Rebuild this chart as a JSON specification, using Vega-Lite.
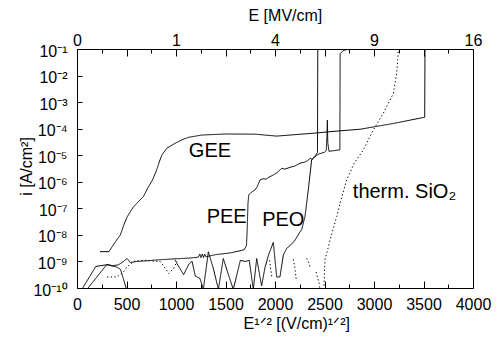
{
  "$schema": "https://vega.github.io/schema/vega-lite/v6.json",
  "width": 396,
  "height": 239,
  "autosize": "none",
  "padding": {"left": 77, "top": 49, "right": 27, "bottom": 51},
  "background": "white",
  "config": {
    "view": {"stroke": "black", "strokeWidth": 1},
    "font": "Liberation Sans",
    "axis": {
      "domain": false,
      "grid": false,
      "ticks": true,
      "labelFont": "Liberation Sans",
      "labelFontSize": 16,
      "labelColor": "black",
      "tickColor": "black",
      "tickWidth": 1,
      "titleFont": "Liberation Sans",
      "titleFontSize": 16,
      "titleFontWeight": "normal",
      "titleColor": "black",
      "labelOverlap": false,
      "labelFlush": false
    }
  },
  "resolve": {"axis": {"x": "independent", "y": "independent"}},
  "layer": [
    {
      "data": {
        "values": [
          {"s": "GEE", "t": "solid", "x": 232, "y": 2.34e-9},
          {"s": "GEE", "t": "solid", "x": 323, "y": 2.34e-9},
          {"s": "GEE", "t": "solid", "x": 380, "y": 5.0e-9},
          {"s": "GEE", "t": "solid", "x": 438, "y": 1.0e-8},
          {"s": "GEE", "t": "solid", "x": 480, "y": 2.8e-8},
          {"s": "GEE", "t": "solid", "x": 510, "y": 5.0e-8},
          {"s": "GEE", "t": "solid", "x": 569, "y": 1.12e-7},
          {"s": "GEE", "t": "solid", "x": 620, "y": 1.78e-7},
          {"s": "GEE", "t": "solid", "x": 670, "y": 2.75e-7},
          {"s": "GEE", "t": "solid", "x": 720, "y": 6.3e-7},
          {"s": "GEE", "t": "solid", "x": 760, "y": 1.12e-6},
          {"s": "GEE", "t": "solid", "x": 800, "y": 2.5e-6},
          {"s": "GEE", "t": "solid", "x": 838, "y": 6.6e-6},
          {"s": "GEE", "t": "solid", "x": 860, "y": 1.05e-5},
          {"s": "GEE", "t": "solid", "x": 906, "y": 1.82e-5},
          {"s": "GEE", "t": "solid", "x": 990, "y": 2.8e-5},
          {"s": "GEE", "t": "solid", "x": 1060, "y": 3.8e-5},
          {"s": "GEE", "t": "solid", "x": 1125, "y": 4.7e-5},
          {"s": "GEE", "t": "solid", "x": 1259, "y": 5.75e-5},
          {"s": "GEE", "t": "solid", "x": 1500, "y": 6.3e-5},
          {"s": "GEE", "t": "solid", "x": 1800, "y": 6.2e-5},
          {"s": "GEE", "t": "solid", "x": 2017, "y": 5.25e-5},
          {"s": "GEE", "t": "solid", "x": 2400, "y": 6.8e-5},
          {"s": "GEE", "t": "solid", "x": 2657, "y": 8.3e-5},
          {"s": "GEE", "t": "solid", "x": 2859, "y": 9.5e-5},
          {"s": "GEE", "t": "solid", "x": 3200, "y": 1.58e-4},
          {"s": "GEE", "t": "solid", "x": 3512, "y": 2.7e-4},
          {"s": "GEE", "t": "solid", "x": 3515, "y": 0.1},

          {"s": "PEE", "t": "solid", "x": 101, "y": 8.9e-11},
          {"s": "PEE", "t": "solid", "x": 303, "y": 7.8e-10},
          {"s": "PEE", "t": "solid", "x": 360, "y": 6.9e-10},
          {"s": "PEE", "t": "solid", "x": 420, "y": 7.5e-10},
          {"s": "PEE", "t": "solid", "x": 470, "y": 1.0e-9},
          {"s": "PEE", "t": "solid", "x": 505, "y": 1.3e-9},
          {"s": "PEE", "t": "solid", "x": 539, "y": 9.1e-10},
          {"s": "PEE", "t": "solid", "x": 600, "y": 1.0e-9},
          {"s": "PEE", "t": "solid", "x": 700, "y": 1.05e-9},
          {"s": "PEE", "t": "solid", "x": 822, "y": 1.15e-9},
          {"s": "PEE", "t": "solid", "x": 1000, "y": 1.26e-9},
          {"s": "PEE", "t": "solid", "x": 1150, "y": 1.35e-9},
          {"s": "PEE", "t": "solid", "x": 1225, "y": 1.45e-9},
          {"s": "PEE", "t": "solid", "x": 1240, "y": 1.9e-9},
          {"s": "PEE", "t": "solid", "x": 1252, "y": 1.4e-9},
          {"s": "PEE", "t": "solid", "x": 1265, "y": 1.9e-9},
          {"s": "PEE", "t": "solid", "x": 1278, "y": 1.4e-9},
          {"s": "PEE", "t": "solid", "x": 1290, "y": 1.9e-9},
          {"s": "PEE", "t": "solid", "x": 1302, "y": 1.5e-9},
          {"s": "PEE", "t": "solid", "x": 1400, "y": 1.8e-9},
          {"s": "PEE", "t": "solid", "x": 1550, "y": 2.1e-9},
          {"s": "PEE", "t": "solid", "x": 1663, "y": 2.6e-9},
          {"s": "PEE", "t": "solid", "x": 1690, "y": 2.8e-9},
          {"s": "PEE", "t": "solid", "x": 1712, "y": 4.0e-9},
          {"s": "PEE", "t": "solid", "x": 1720, "y": 2.0e-8},
          {"s": "PEE", "t": "solid", "x": 1727, "y": 1.5e-7},
          {"s": "PEE", "t": "solid", "x": 1735, "y": 3.2e-7},
          {"s": "PEE", "t": "solid", "x": 1760, "y": 4.0e-7},
          {"s": "PEE", "t": "solid", "x": 1798, "y": 4.9e-7},
          {"s": "PEE", "t": "solid", "x": 1820, "y": 6.5e-7},
          {"s": "PEE", "t": "solid", "x": 1848, "y": 1.17e-6},
          {"s": "PEE", "t": "solid", "x": 1880, "y": 1.3e-6},
          {"s": "PEE", "t": "solid", "x": 1910, "y": 1.25e-6},
          {"s": "PEE", "t": "solid", "x": 1940, "y": 1.5e-6},
          {"s": "PEE", "t": "solid", "x": 1983, "y": 1.8e-6},
          {"s": "PEE", "t": "solid", "x": 2020, "y": 2.2e-6},
          {"s": "PEE", "t": "solid", "x": 2067, "y": 3.2e-6},
          {"s": "PEE", "t": "solid", "x": 2100, "y": 3.0e-6},
          {"s": "PEE", "t": "solid", "x": 2152, "y": 3.5e-6},
          {"s": "PEE", "t": "solid", "x": 2200, "y": 3.9e-6},
          {"s": "PEE", "t": "solid", "x": 2253, "y": 5.0e-6},
          {"s": "PEE", "t": "solid", "x": 2300, "y": 5.5e-6},
          {"s": "PEE", "t": "solid", "x": 2330, "y": 6.3e-6},
          {"s": "PEE", "t": "solid", "x": 2354, "y": 7.6e-6},
          {"s": "PEE", "t": "solid", "x": 2380, "y": 7.0e-6},
          {"s": "PEE", "t": "solid", "x": 2404, "y": 8.9e-6},
          {"s": "PEE", "t": "solid", "x": 2440, "y": 1.1e-5},
          {"s": "PEE", "t": "solid", "x": 2500, "y": 1.3e-5},
          {"s": "PEE", "t": "solid", "x": 2518, "y": 1.5e-5},
          {"s": "PEE", "t": "solid", "x": 2524, "y": 5.0e-5},
          {"s": "PEE", "t": "solid", "x": 2529, "y": 2.1e-4},
          {"s": "PEE", "t": "solid", "x": 2533, "y": 3.0e-5},
          {"s": "PEE", "t": "solid", "x": 2545, "y": 1.4e-5},
          {"s": "PEE", "t": "solid", "x": 2655, "y": 1.6e-5},
          {"s": "PEE", "t": "solid", "x": 2658, "y": 6.6e-2},
          {"s": "PEE", "t": "solid", "x": 2690, "y": 8.9e-2},
          {"s": "PEE", "t": "solid", "x": 2760, "y": 0.1},

          {"s": "PEO1", "t": "solid", "x": 50, "y": 8.9e-11},
          {"s": "PEO1", "t": "solid", "x": 190, "y": 6.5e-10},
          {"s": "PEO1", "t": "solid", "x": 300, "y": 7.5e-10},
          {"s": "PEO1", "t": "solid", "x": 400, "y": 6.2e-10},
          {"s": "PEO1", "t": "solid", "x": 440, "y": 5.0e-10},
          {"s": "PEO1", "t": "solid", "x": 500, "y": 8.9e-11},

          {"s": "PEO2", "t": "solid", "x": 990, "y": 1.17e-9},
          {"s": "PEO2", "t": "solid", "x": 1010, "y": 8.3e-10},
          {"s": "PEO2", "t": "solid", "x": 1077, "y": 3.2e-10},
          {"s": "PEO2", "t": "solid", "x": 1130, "y": 7.9e-10},
          {"s": "PEO2", "t": "solid", "x": 1162, "y": 1.02e-9},
          {"s": "PEO2", "t": "solid", "x": 1195, "y": 2.8e-10},
          {"s": "PEO2", "t": "solid", "x": 1242, "y": 2.3e-10},
          {"s": "PEO2", "t": "solid", "x": 1276, "y": 8.9e-11},
          {"s": "PEO2", "t": "solid", "x": 1327, "y": 2.3e-9},
          {"s": "PEO2", "t": "solid", "x": 1377, "y": 5.5e-10},
          {"s": "PEO2", "t": "solid", "x": 1428, "y": 8.9e-11},
          {"s": "PEO2", "t": "solid", "x": 1478, "y": 1.29e-9},
          {"s": "PEO2", "t": "solid", "x": 1529, "y": 3.2e-10},
          {"s": "PEO2", "t": "solid", "x": 1579, "y": 8.9e-11},
          {"s": "PEO2", "t": "solid", "x": 1650, "y": 1.1e-9},
          {"s": "PEO2", "t": "solid", "x": 1700, "y": 1.0e-9},
          {"s": "PEO2", "t": "solid", "x": 1740, "y": 1.1e-9},
          {"s": "PEO2", "t": "solid", "x": 1781, "y": 8.9e-11},
          {"s": "PEO2", "t": "solid", "x": 1815, "y": 1.29e-9},
          {"s": "PEO2", "t": "solid", "x": 1865, "y": 1.2e-10},
          {"s": "PEO2", "t": "solid", "x": 1899, "y": 6.0e-10},
          {"s": "PEO2", "t": "solid", "x": 1940, "y": 2.0e-9},
          {"s": "PEO2", "t": "solid", "x": 1983, "y": 5.2e-9},
          {"s": "PEO2", "t": "solid", "x": 2017, "y": 2.6e-10},
          {"s": "PEO2", "t": "solid", "x": 2050, "y": 2.6e-10},
          {"s": "PEO2", "t": "solid", "x": 2084, "y": 1.74e-9},
          {"s": "PEO2", "t": "solid", "x": 2118, "y": 3.1e-9},
          {"s": "PEO2", "t": "solid", "x": 2168, "y": 4.5e-9},
          {"s": "PEO2", "t": "solid", "x": 2202, "y": 6.3e-9},
          {"s": "PEO2", "t": "solid", "x": 2250, "y": 1.26e-8},
          {"s": "PEO2", "t": "solid", "x": 2269, "y": 1.55e-8},
          {"s": "PEO2", "t": "solid", "x": 2303, "y": 4.9e-8},
          {"s": "PEO2", "t": "solid", "x": 2336, "y": 4.9e-7},
          {"s": "PEO2", "t": "solid", "x": 2370, "y": 6.6e-6},
          {"s": "PEO2", "t": "solid", "x": 2400, "y": 8.9e-6},
          {"s": "PEO2", "t": "solid", "x": 2429, "y": 1.26e-5},
          {"s": "PEO2", "t": "solid", "x": 2432, "y": 0.1},

          {"s": "TH1", "t": "dot", "x": 303, "y": 2.6e-10},
          {"s": "TH1", "t": "dot", "x": 404, "y": 2.6e-10},
          {"s": "TH1", "t": "dot", "x": 471, "y": 4.1e-10},
          {"s": "TH1", "t": "dot", "x": 505, "y": 6.3e-10},
          {"s": "TH1", "t": "dot", "x": 572, "y": 1.0e-9},
          {"s": "TH1", "t": "dot", "x": 673, "y": 1.12e-9},
          {"s": "TH1", "t": "dot", "x": 842, "y": 9.8e-10},
          {"s": "TH1", "t": "dot", "x": 892, "y": 5.5e-10},
          {"s": "TH1", "t": "dot", "x": 926, "y": 3.5e-10},
          {"s": "TH1", "t": "dot", "x": 976, "y": 5.5e-10},
          {"s": "TH1", "t": "dot", "x": 1010, "y": 1.0e-9},
          {"s": "TH2", "t": "dot", "x": 1945, "y": 1.1e-9},
          {"s": "TH2", "t": "dot", "x": 1955, "y": 6.0e-10},
          {"s": "TH2", "t": "dot", "x": 1968, "y": 2.5e-10},
          {"s": "TH3", "t": "dot", "x": 2185, "y": 1.2e-9},
          {"s": "TH3", "t": "dot", "x": 2200, "y": 6.0e-10},
          {"s": "TH3", "t": "dot", "x": 2215, "y": 2.0e-10},
          {"s": "TH4", "t": "dot", "x": 2320, "y": 1.3e-9},
          {"s": "TH4", "t": "dot", "x": 2337, "y": 1.0e-9},
          {"s": "TH4", "t": "dot", "x": 2354, "y": 6.3e-10},
          {"s": "TH5", "t": "dot", "x": 2415, "y": 4.0e-10},
          {"s": "TH5", "t": "dot", "x": 2430, "y": 2.5e-10},
          {"s": "TH5", "t": "dot", "x": 2445, "y": 1.5e-10},
          {"s": "TH5", "t": "dot", "x": 2455, "y": 8.9e-11},
          {"s": "TH6", "t": "dot", "x": 2490, "y": 8.9e-11},
          {"s": "TH6", "t": "dot", "x": 2495, "y": 1.1e-10},
          {"s": "TH6", "t": "dot", "x": 2500, "y": 4.0e-10},
          {"s": "TH6", "t": "dot", "x": 2505, "y": 1.15e-9},
          {"s": "TH6", "t": "dot", "x": 2522, "y": 2.0e-9},
          {"s": "TH6", "t": "dot", "x": 2570, "y": 1.0e-8},
          {"s": "TH6", "t": "dot", "x": 2623, "y": 4.9e-8},
          {"s": "TH6", "t": "dot", "x": 2657, "y": 1.55e-7},
          {"s": "TH6", "t": "dot", "x": 2724, "y": 1.17e-6},
          {"s": "TH6", "t": "dot", "x": 2800, "y": 5.0e-6},
          {"s": "TH6", "t": "dot", "x": 2892, "y": 1.58e-5},
          {"s": "TH6", "t": "dot", "x": 2993, "y": 8.9e-5},
          {"s": "TH6", "t": "dot", "x": 3094, "y": 3.8e-4},
          {"s": "TH6", "t": "dot", "x": 3195, "y": 2.1e-3},
          {"s": "TH6", "t": "dot", "x": 3229, "y": 1.2e-2},
          {"s": "TH6", "t": "dot", "x": 3240, "y": 4.0e-2},
          {"s": "TH6", "t": "dot", "x": 3246, "y": 0.1}
        ]
      },
      "mark": {"type": "line", "clip": true, "strokeWidth": 1, "color": "black"},
      "encoding": {
        "x": {
          "field": "x", "type": "quantitative",
          "scale": {"domain": [0, 4000], "nice": false, "zero": false},
          "axis": {
            "orient": "bottom",
            "values": [0, 500, 1000, 1500, 2000, 2500, 3000, 3500, 4000],
            "format": "d",
            "offset": -7,
            "tickSize": 7,
            "labelPadding": 8,
            "labelBaseline": "top",
            "title": "E¹ᐟ² [(V/cm)¹ᐟ²]",
            "titleX": 166,
            "titleY": 42,
            "titleAlign": "left",
            "titleBaseline": "middle"
          }
        },
        "y": {
          "field": "y", "type": "quantitative",
          "scale": {"type": "log", "domain": [1e-10, 0.1], "nice": false},
          "axis": {
            "orient": "left",
            "values": [1e-10, 1e-9, 1e-8, 1e-7, 1e-6, 1e-5, 1e-4, 1e-3, 1e-2, 1e-1],
            "labelExpr": "'10⁻' + (round(-log(datum.value)/LN10) == 10 ? '¹⁰' : ['','¹','²','³','⁴','⁵','⁶','⁷','⁸','⁹'][round(-log(datum.value)/LN10)])",
            "offset": -5,
            "tickSize": 5,
            "labelPadding": 10,
            "labelOffset": 2,
            "title": "i [A/cm²]",
            "titleX": -56,
            "titleY": 117,
            "titleAngle": -90,
            "titleAlign": "center",
            "titleBaseline": "middle"
          }
        },
        "detail": {"field": "s", "type": "nominal"},
        "strokeDash": {
          "field": "t", "type": "nominal",
          "scale": {"domain": ["solid", "dot"], "range": [[1, 0], [1.3, 2.4]]},
          "legend": null
        }
      }
    },
    {
      "data": {
        "values": [
          {"x": 1343, "y": 1.45e-5, "label": "GEE"},
          {"x": 1512, "y": 4.6e-8, "label": "PEE"},
          {"x": 2084, "y": 3.6e-8, "label": "PEO"},
          {"x": 3308, "y": 4.0e-7, "label": "therm. SiO₂"}
        ]
      },
      "mark": {"type": "text", "fontSize": 20, "font": "Liberation Sans", "color": "black", "align": "center", "baseline": "middle"},
      "encoding": {
        "x": {
          "field": "x", "type": "quantitative",
          "axis": {
            "orient": "top",
            "values": [0, 500, 1000, 1500, 2000, 2500, 3000, 3500, 4000],
            "labelExpr": "datum.value % 1000 === 0 ? format(pow(datum.value/1000, 2), 'd') : ''",
            "offset": -7,
            "tickSize": 7,
            "labelPadding": 1,
            "labelBaseline": "bottom",
            "title": "E [MV/cm]",
            "titleX": 171,
            "titleY": -41,
            "titleAlign": "left",
            "titleBaseline": "middle"
          }
        },
        "y": {"field": "y", "type": "quantitative", "axis": null},
        "text": {"field": "label"}
      }
    },
    {
      "data": {"values": [{"x": 250, "y": 1e-5}]},
      "mark": {"type": "point", "opacity": 0},
      "encoding": {
        "x": {
          "field": "x", "type": "quantitative",
          "axis": {
            "orient": "bottom",
            "values": [250, 750, 1250, 1750, 2250, 2750, 3250, 3750],
            "offset": -4,
            "tickSize": 4,
            "labels": false,
            "title": null
          }
        },
        "y": {"field": "y", "type": "quantitative", "axis": null}
      }
    },
    {
      "data": {"values": [{"x": 250, "y": 1e-5}]},
      "mark": {"type": "point", "opacity": 0},
      "encoding": {
        "x": {
          "field": "x", "type": "quantitative",
          "axis": {
            "orient": "top",
            "values": [250, 750, 1250, 1750, 2250, 2750, 3250, 3750],
            "offset": -4,
            "tickSize": 4,
            "labels": false,
            "title": null
          }
        },
        "y": {"field": "y", "type": "quantitative", "axis": null}
      }
    }
  ]
}
